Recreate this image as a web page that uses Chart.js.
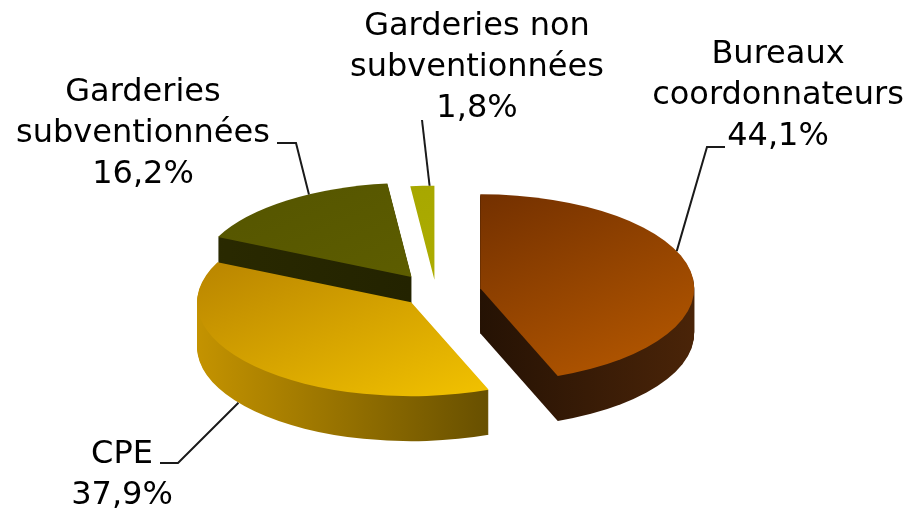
<!DOCTYPE html>
<html>
<head>
<meta charset="utf-8">
<script src="https://cdn.jsdelivr.net/npm/chart.js@4.4.1/dist/chart.umd.min.js"></script>
<style>
  html, body { margin: 0; padding: 0; background: #fff; }
</style>
</head>
<body>
<canvas id="pieChart" width="919" height="512"></canvas>
<script>
// data
const categories = ["Bureaux coordonnateurs", "CPE", "Garderies subventionnées", "Garderies non subventionnées"];
const shares = [44.1, 37.9, 16.2, 1.8];
// how each category name is broken on the picture
const nameLines = [["Bureaux", "coordonnateurs"], ["CPE"], ["Garderies", "subventionnées"], ["Garderies non", "subventionnées"]];

// style
const explode = [45, 34, 42, 28]; // px pulled out along the slice middle
const topColors = [["#5c2200", "#ba5b00"], ["#ad7800", "#ffd000"], ["#545400", "#666600"], ["#a3a300", "#b6b600"]];
const sideColors = [["#000000", "#4a2408"], ["#c49300", "#3c3000"], ["#2a2a00", "#1c1c00"], ["#7a7a00", "#6a6a00"]];

// where the tilted pie sits on the page
const view = { cx: 436, cy: 292, rx: 214, ry: 94, depth: 45 };

// label boxes and leader lines
const labelSpots = [
  { x: 778, y: 63, frac: 0.42, depth: 0, path: [[725, 147], [707, 147]] },
  { x: 122, y: 463, frac: 0.55, depth: 1, path: [[160, 463], [178, 463]] },
  { x: 143, y: 101, frac: 0.62, depth: 0, path: [[277, 143], [296, 143]] },
  { x: 477, y: 35, frac: 0.8, depth: 0, path: [[422, 120]] }
];

function fmtShare(v) {
  return v.toFixed(1).replace(".", ",") + "%";
}

function midAngle(arc) {
  return (arc.startAngle + arc.endAngle) / 2;
}

// a slice whose rim only faces away shows no wall
function showsWall(arc) {
  for (let n = 0; n <= 20; n++) {
    const a = arc.startAngle + (n / 20) * (arc.endAngle - arc.startAngle);
    if (Math.sin(a) > -0.95) return true;
  }
  return false;
}

function drawArc(ctx, arc, i, sx, sy, dy, fill) {
  const h = midAngle(arc);
  const e = explode[i] / sx;
  ctx.save();
  ctx.translate(view.cx, view.cy + dy);
  ctx.scale(sx, sy);
  ctx.translate(-arc.x + Math.cos(h) * e, -arc.y + Math.sin(h) * e);
  const proxy = Object.create(arc);
  proxy.options = Object.assign({}, arc.options, { backgroundColor: fill, borderWidth: 0 });
  arc.draw.call(proxy, ctx);
  ctx.restore();
}

const pie3d = {
  id: "pie3d",
  beforeDatasetDraw(chart, args) {
    const ctx = chart.ctx;
    const arcs = args.meta.data;
    const R = arcs[0].outerRadius;
    const sx = view.rx / R, sy = view.ry / R;
    // back slices first
    const order = arcs.map((a, i) => i).sort((a, b) => Math.sin(midAngle(arcs[a])) - Math.sin(midAngle(arcs[b])));
    order.forEach((i) => {
      const arc = arcs[i];
      if (showsWall(arc)) {
        const side = ctx.createLinearGradient(arc.x - R, 0, arc.x + R, 0);
        side.addColorStop(0, sideColors[i][0]);
        side.addColorStop(1, sideColors[i][1]);
        for (let d = view.depth; d > 0; d--) {
          drawArc(ctx, arc, i, sx, sy, d, side);
        }
      }
      const top = ctx.createLinearGradient(arc.x - R, arc.y - R, arc.x + R, arc.y + R);
      top.addColorStop(0, topColors[i][0]);
      top.addColorStop(1, topColors[i][1]);
      drawArc(ctx, arc, i, sx, sy, 0, top);
    });
    return false;
  },
  afterDraw(chart) {
    const ctx = chart.ctx;
    const arcs = chart.getDatasetMeta(0).data;
    const k = view.ry / view.rx;
    ctx.save();
    ctx.font = '32px "DejaVu Sans"';
    ctx.fillStyle = "#000";
    ctx.textAlign = "center";
    ctx.textBaseline = "alphabetic";
    labelSpots.forEach((spot, i) => {
      const lines = nameLines[i].concat([fmtShare(shares[i])]);
      lines.forEach((t, n) => ctx.fillText(t, spot.x, spot.y + n * 41));

      // leader line to the slice edge
      const arc = arcs[i];
      const h = midAngle(arc);
      const a = arc.startAngle + spot.frac * (arc.endAngle - arc.startAngle);
      const ax = view.cx + Math.cos(h) * explode[i] + Math.cos(a) * view.rx;
      const ay = view.cy + Math.sin(h) * explode[i] * k + Math.sin(a) * view.ry + spot.depth * view.depth;
      ctx.beginPath();
      ctx.moveTo(spot.path[0][0], spot.path[0][1]);
      spot.path.slice(1).forEach((p) => ctx.lineTo(p[0], p[1]));
      ctx.lineTo(ax, ay);
      ctx.strokeStyle = "#1a1a1a";
      ctx.lineWidth = 2;
      ctx.stroke();
    });
    ctx.restore();
  }
};

new Chart(document.getElementById("pieChart").getContext("2d"), {
  type: "pie",
  data: {
    labels: categories,
    datasets: [{ data: shares, borderWidth: 0, backgroundColor: topColors.map((c) => c[1]) }]
  },
  options: {
    responsive: false,
    animation: false,
    events: [],
    plugins: { legend: { display: false }, tooltip: { enabled: false } }
  },
  plugins: [pie3d]
});
</script>
</body>
</html>
